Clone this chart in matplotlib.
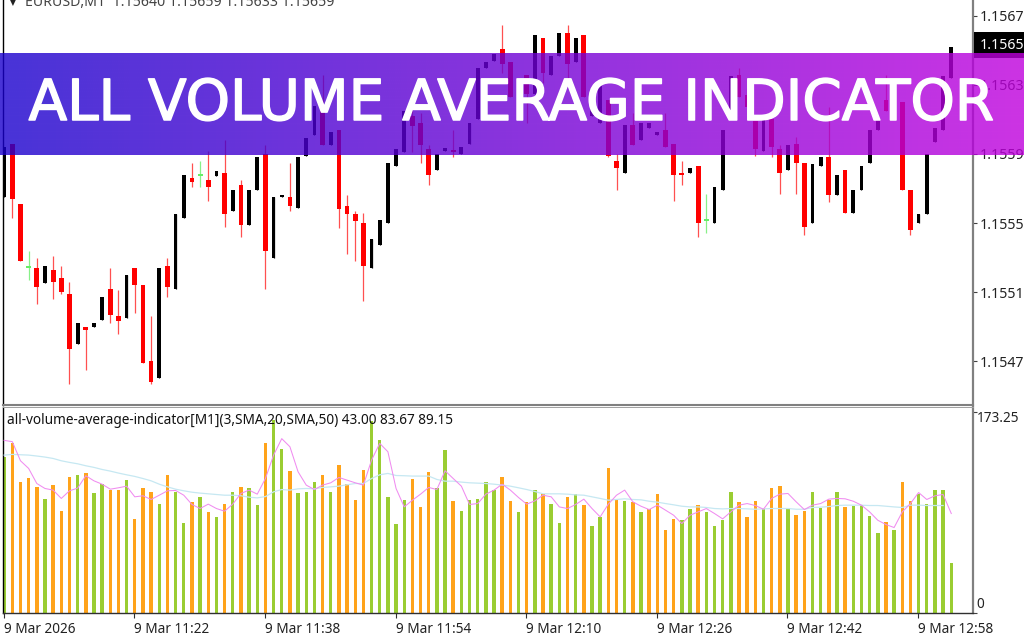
import numpy as np
import matplotlib
matplotlib.use("Agg")
import matplotlib.pyplot as plt
import matplotlib.patheffects as pe

W, H = 1024, 640
TITLE = "ALL VOLUME AVERAGE INDICATOR"
HEADER = "EURUSD,M1  1.15640 1.15659 1.15633 1.15659"
CAPTION = "all-volume-average-indicator[M1](3,SMA,20,SMA,50) 43.00 83.67 89.15"
time_labels = ["9 Mar 2026", "9 Mar 11:22", "9 Mar 11:38", "9 Mar 11:54", "9 Mar 12:10",
               "9 Mar 12:26", "9 Mar 12:42", "9 Mar 12:58"]
price_ticks = [1.1547, 1.1551, 1.1555, 1.1559, 1.1563, 1.1567]
current_price = 1.15653
vol_max = 173.25

opens = [1.15565,1.15596,1.15561,1.15524,1.15524,1.15515,1.15523,1.15518,1.15509,1.15480,
         1.15490,1.15490,1.15494,1.15512,1.15496,1.15495,1.15524,1.15514,1.15470,1.15460,
         1.15525,1.15512,1.15553,1.15576,1.15577,1.15575,1.15577,1.15579,1.15557,1.15572,
         1.15549,1.15569,1.15590,1.15530,1.15565,1.15565,1.15559,1.15589,1.15601,1.15617,
         1.15595,1.15604,1.15560,1.15555,1.15550,1.15524,1.15537,1.15550,1.15583,1.15591,
         1.15612,1.15608,1.15593,1.15581,1.15592,1.15592,1.15590,1.15596,1.15610,1.15640,
         1.15644,1.15651,1.15643,1.15628,1.15636,1.15625,1.15657,1.15636,1.15647,1.15660,
         1.15643,1.15659,1.15612,1.15608,1.15621,1.15586,1.15579,1.15607,1.15598,1.15605,
         1.15601,1.15604,1.15596,1.15579,1.15579,1.15583,1.15551,1.15550,1.15569,1.15610,
         1.15636,1.15624,1.15609,1.15592,1.15610,1.15593,1.15581,1.15596,1.15585,1.15550,
         1.15583,1.15588,1.15566,1.15581,1.15556,1.15569,1.15585,1.15604,1.15621,1.15617,
         1.15620,1.15569,1.15550,1.15555,1.15597,1.15604,1.15634]
highs = [1.15594,1.15596,1.15561,1.15534,1.15530,1.15525,1.15531,1.15525,1.15516,1.15492,
         1.15490,1.15492,1.15507,1.15524,1.15511,1.15520,1.15524,1.15514,1.15496,1.15524,
         1.15530,1.15555,1.15578,1.15585,1.15586,1.15592,1.15580,1.15598,1.15569,1.15575,
         1.15569,1.15588,1.15595,1.15565,1.15566,1.15585,1.15588,1.15599,1.15618,1.15636,
         1.15603,1.15604,1.15566,1.15557,1.15556,1.15541,1.15552,1.15585,1.15593,1.15615,
         1.15618,1.15614,1.15595,1.15590,1.15593,1.15604,1.15594,1.15608,1.15640,1.15643,
         1.15648,1.15665,1.15643,1.15634,1.15636,1.15659,1.15657,1.15647,1.15660,1.15665,
         1.15657,1.15659,1.15625,1.15631,1.15621,1.15590,1.15607,1.15614,1.15608,1.15608,
         1.15603,1.15614,1.15596,1.15586,1.15582,1.15583,1.15567,1.15571,1.15604,1.15635,
         1.15640,1.15628,1.15609,1.15610,1.15610,1.15595,1.15595,1.15600,1.15585,1.15584,
         1.15588,1.15617,1.15578,1.15581,1.15569,1.15583,1.15604,1.15610,1.15636,1.15626,
         1.15620,1.15569,1.15555,1.15590,1.15605,1.15635,1.15652]
lows = [1.15565,1.15553,1.15528,1.15517,1.15503,1.15515,1.15506,1.15509,1.15457,1.15480,
        1.15465,1.15490,1.15494,1.15492,1.15486,1.15495,1.15498,1.15469,1.15457,1.15460,
        1.15507,1.15512,1.15553,1.15571,1.15571,1.15563,1.15577,1.15548,1.15557,1.15542,
        1.15549,1.15569,1.15512,1.15530,1.15565,1.15557,1.15559,1.15589,1.15601,1.15595,
        1.15595,1.15547,1.15532,1.15528,1.15505,1.15524,1.15537,1.15550,1.15583,1.15591,
        1.15591,1.15585,1.15572,1.15581,1.15592,1.15588,1.15590,1.15596,1.15610,1.15640,
        1.15644,1.15637,1.15623,1.15628,1.15608,1.15625,1.15631,1.15636,1.15647,1.15633,
        1.15643,1.15623,1.15612,1.15608,1.15588,1.15569,1.15579,1.15595,1.15598,1.15605,
        1.15601,1.15594,1.15563,1.15572,1.15579,1.15542,1.15544,1.15550,1.15569,1.15610,
        1.15623,1.15617,1.15589,1.15592,1.15588,1.15567,1.15581,1.15567,1.15543,1.15550,
        1.15583,1.15562,1.15566,1.15556,1.15556,1.15569,1.15585,1.15604,1.15615,1.15617,
        1.15569,1.15543,1.15550,1.15555,1.15597,1.15604,1.15634]
closes = [1.15594,1.15564,1.15528,1.15524,1.15513,1.15525,1.15516,1.15510,1.15477,1.15492,
          1.15488,1.15492,1.15507,1.15497,1.15493,1.15520,1.15514,1.15469,1.15458,1.15524,
          1.15513,1.15555,1.15578,1.15574,1.15577,1.15571,1.15580,1.15555,1.15569,1.15549,
          1.15569,1.15588,1.15534,1.15565,1.15566,1.15560,1.15588,1.15599,1.15618,1.15595,
          1.15603,1.15558,1.15555,1.15551,1.15525,1.15541,1.15552,1.15585,1.15593,1.15615,
          1.15606,1.15595,1.15578,1.15590,1.15593,1.15591,1.15594,1.15608,1.15640,1.15643,
          1.15648,1.15642,1.15623,1.15634,1.15625,1.15659,1.15637,1.15647,1.15660,1.15642,
          1.15657,1.15623,1.15625,1.15631,1.15589,1.15582,1.15607,1.15595,1.15608,1.15608,
          1.15603,1.15594,1.15578,1.15578,1.15582,1.15550,1.15551,1.15571,1.15604,1.15635,
          1.15623,1.15617,1.15593,1.15610,1.15594,1.15579,1.15595,1.15585,1.15548,1.15584,
          1.15588,1.15566,1.15578,1.15556,1.15569,1.15583,1.15604,1.15610,1.15615,1.15626,
          1.15569,1.15546,1.15555,1.15590,1.15605,1.15635,1.15652]

volumes = [134,146,113,116,108,98,110,88,117,119,120,103,111,106,106,114,81,107,104,94,
           119,104,77,95,100,87,82,94,104,108,107,93,146,166,141,122,103,104,113,119,
           104,127,111,97,123,165,149,100,76,97,115,91,121,107,140,96,88,97,98,113,
           106,117,96,87,95,106,102,94,77,100,102,93,75,82,125,97,96,95,87,89,
           102,71,81,80,89,93,87,75,80,104,95,82,96,89,107,109,90,84,88,104,
           90,97,104,91,92,93,83,69,78,71,113,96,102,94,106,106,43]
volume_kinds = list("GOOOOGOOOGOGGOOGOOOGOGGOGOGOGOGGOGGOGGGOGO"[:42]
                    + "OOOGGGGGOOOGGOGGGGGOOGOGOGGOGOGGOOGOGOOOO"
                    + "GGOGGGGOOOGOOGOOGGOGOGGGGOGOOGGGGG")
fast_line = [148.5,147.4,130.9,124.3,111.3,107,105.6,98.4,105,107.3,118,113.6,110.7,106.4,107.6,109,
             99.8,100.7,97.5,101.2,105,105.3,101.2,93.2,89.7,93.5,89.7,87.4,93.5,102.7,105.6,102.1,
             115.6,135.8,150,143,121.4,109.9,106.1,109.9,111.9,116.5,114.2,111.9,109.9,131.5,145.9,138.7,
             107,91.1,96.9,102.1,107.9,106.1,122.3,115.6,109,93.2,94,102.1,105.6,110.7,105.6,99.2,
             93.5,96.3,101.2,99.8,91.1,89.7,93.2,97.8,89.7,82.5,93.5,101.2,105.6,95.5,91.7,88.8,
             92.6,88.3,83.9,76.7,83.9,86.8,89.7,85.4,80.8,86.8,92.6,94,92.3,89.1,98.4,102.1,
             102.7,95.5,88.8,92.6,94,97.8,98.4,98.1,96,92.6,86.8,79.6,75.9,73.3,86.8,94,
             103.5,97.5,100.7,101.8,85.4]
slow_line = [135.8,136.4,136.1,135.8,135,134.1,132.9,130.9,129.5,128.3,126.6,125.2,123.4,122,120.3,118.8,
             117.4,115.6,113.6,110.7,108.4,106.4,105,103.8,103,102.4,101.8,101.2,101.2,100.7,99.5,98.9,
             100,104.1,106.1,105.6,106.7,107,106.7,107.9,108.4,109,110.2,111.3,111.3,115.6,118.8,120,
             118.2,118,117.7,117.7,117.7,114.8,113.3,113.3,112.5,111.9,111.6,111.3,110.7,109.9,109,107.6,
             106.1,104.4,102.4,102.4,102.4,102.1,101.5,101.2,99.8,98.4,96.9,97.5,98.1,97.5,97.2,96,
             95.2,94,92.9,91.7,91.1,91.1,90.6,89.7,89.4,89.7,89.7,89.4,89.1,89.4,89.7,89.7,
             89.7,89.1,89.1,90.6,90.9,91.4,92.3,92.6,92.6,92.6,92.3,92.3,91.7,91.1,90.6,92.6,
             92.6,92.3,92.3,92.3]

FONT = "Noto Sans"
plt.rcParams["font.family"] = FONT
fig = plt.figure(figsize=(W / 100, H / 100), dpi=100, facecolor="white")


def box(x0, y0, x1, y1):
    return [x0 / W, 1 - y1 / H, (x1 - x0) / W, (y1 - y0) / H]


idx = np.arange(len(opens))
xlim = (-0.14, 118.6)
ax = fig.add_axes(box(3, 0, 972.5, 404.5))
ax2 = fig.add_axes(box(3, 407, 972.5, 612.5))
for a in (ax, ax2):
    a.set_xlim(*xlim)
    a.spines["top"].set_visible(False)
    a.spines["left"].set_color("black")
    a.spines["left"].set_linewidth(1.0)
    a.spines["right"].set_color("#808080")
    a.spines["right"].set_linewidth(1.6)
ax.spines["bottom"].set_color("#808080")
ax.spines["bottom"].set_linewidth(1.5)
ax2.spines["top"].set_visible(True)
ax2.spines["top"].set_color("#a0a0a0")
ax2.spines["top"].set_linewidth(0.7)
ax2.spines["bottom"].set_color("#303030")
ax2.spines["bottom"].set_linewidth(1.0)

# candles
ax.set_ylim(1.154449, 1.156792)
op, hi, lo, cl = map(np.array, (opens, highs, lows, closes))
colors = np.where(cl > op, "#000000", np.where(cl < op, "#ff0000", "#66ee66"))
wick_colors = np.where(cl > op, "#000000", np.where(cl < op, "#ff5050", "#88f088"))
ax.vlines(idx, lo, hi, colors=wick_colors, linewidth=0.9, zorder=2)
bottoms = np.minimum(op, cl)
heights = np.maximum(np.abs(cl - op), 0.000012)
widths = np.where(cl == op, 0.6, np.where(cl > op, 0.46, 0.58))
ax.bar(idx, heights, width=widths, bottom=bottoms, color=colors, linewidth=0, zorder=3)
ax.set_xticks([])
ax.yaxis.tick_right()
ax.set_yticks(price_ticks)
ax.set_yticklabels([f"{t:.4f}" for t in price_ticks])
ax.tick_params(axis="y", length=3, width=0.8, color="#404040", pad=2.2, labelsize=10.2, labelcolor="#222222")

ax.annotate(f"{current_price:.4f}", xy=(1, current_price), xycoords=ax.get_yaxis_transform(),
            xytext=(7.5, 0), textcoords="offset pixels", va="center", ha="left", fontsize=10.2, color="white",
            annotation_clip=False, zorder=5,
            bbox=dict(boxstyle="square,pad=0.4", fc="black", ec="black", lw=0))
fig.text(10 / W, 1 - 3 / H, "\u25BC", fontsize=5.5, color="#222222", va="center", ha="left", family="DejaVu Sans")
fig.text(25 / W, 1 - 2.0 / H, HEADER, fontsize=10.2, color="#444444", va="center", ha="left")

# volume pane
ax2.set_ylim(0, 177.3)
bar_colors = ["#ffa31a" if k == "O" else "#9acd32" for k in volume_kinds]
ax2.bar(idx, volumes, width=0.42, color=bar_colors, linewidth=0, zorder=2)
ax2.plot(idx[:len(slow_line)], slow_line, color="#c6e8f2", lw=0.9, zorder=3)
ax2.plot(idx, fast_line, color="#f08cf0", lw=0.75, zorder=4)
ax2.text(4 / 969.5, 1 - 13.5 / 205.5, CAPTION, transform=ax2.transAxes, fontsize=9.8, color="#111111",
         va="center", ha="left", zorder=6)
tick_idx = idx[:116:16]
ax2.set_xticks(tick_idx - 0.06)
ax2.set_xticklabels(time_labels, ha="left")
ax2.tick_params(axis="x", length=3.5, width=0.8, color="#303030", pad=3.5, labelsize=9.8, labelcolor="#222222")
ax2.yaxis.tick_right()
ax2.set_yticks([0, vol_max])
ax2.set_yticklabels([])
ax2.tick_params(axis="y", length=3, width=0.8, color="#404040")
for val, txt, off in ((vol_max, "173.25", -7), (0, "0", 8)):
    ax2.annotate(txt, xy=(1, val), xycoords=ax2.get_yaxis_transform(), xytext=(4, off),
                 textcoords="offset pixels", va="center", ha="left", fontsize=9.8, color="#222222",
                 annotation_clip=False)

# gradient banner
ban = fig.add_axes(box(0, 53, W, 155), zorder=10)
t = np.linspace(0, 1, 512)
grad = np.zeros((1, 512, 4))
grad[0, :, 0] = (26 + (192 - 26) * t) / 255
grad[0, :, 1] = 0
grad[0, :, 2] = (205 + (221 - 205) * t) / 255
grad[0, :, 3] = 0.8
ban.imshow(grad, aspect="auto", extent=(0, 1, 0, 1), interpolation="bilinear")
ban.axis("off")
title = ban.text(510.5 / W, (155 - 120) / 102, TITLE, transform=ban.transAxes, color="white",
                 ha="center", va="baseline", fontsize=37, fontweight="normal", family="DejaVu Sans")
renderer = fig.canvas.get_renderer()
title.set_fontsize(37 * 965 / title.get_window_extent(renderer).width)
title.set_path_effects([pe.withStroke(linewidth=1.1, foreground="white")])

fig.savefig("out.png", dpi=100)
